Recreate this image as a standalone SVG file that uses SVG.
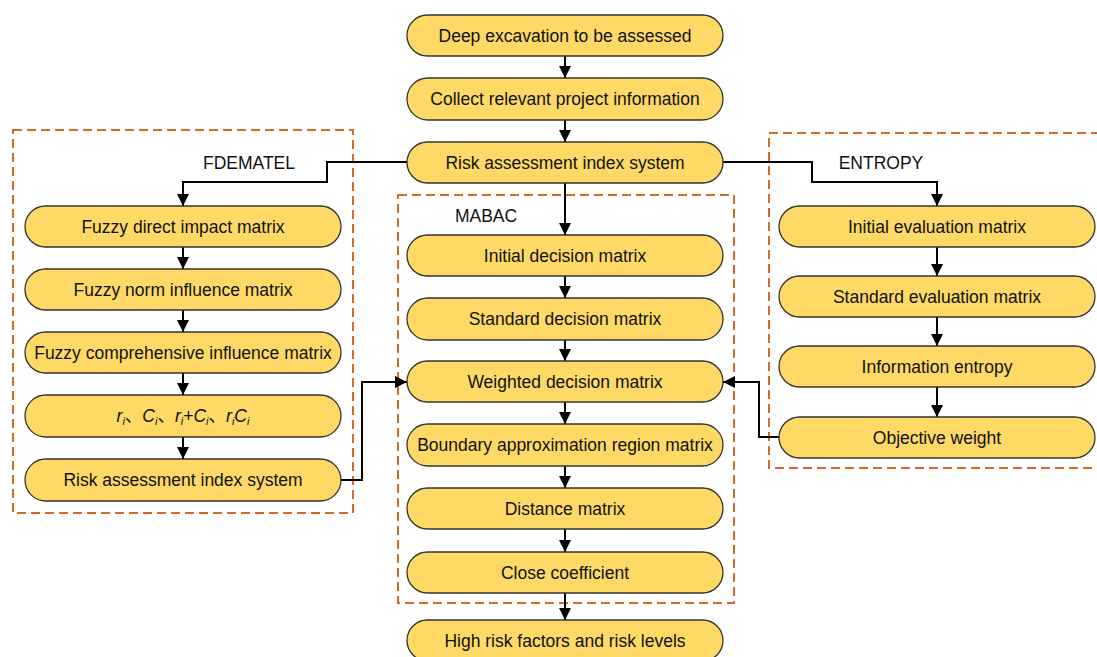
<svg xmlns="http://www.w3.org/2000/svg" width="1097" height="657" viewBox="0 0 1097 657">
<defs>
<style>
.n{fill:#FFD966;stroke:#333;stroke-width:1.3}
.t{font-family:"Liberation Sans",Arial,sans-serif;font-size:17.5px;fill:#111;text-anchor:middle}
.lb{font-family:"Liberation Sans",Arial,sans-serif;font-size:17.5px;fill:#111;text-anchor:middle}
.d{fill:none;stroke:#D4692A;stroke-width:2;stroke-dasharray:9 5}
.c{fill:none;stroke:#000;stroke-width:2}
</style>
<marker id="a" markerUnits="userSpaceOnUse" markerWidth="12" markerHeight="12" viewBox="0 0 12 12" refX="12" refY="6" orient="auto">
<path d="M0,0 L12,6 L0,12 Z" fill="#000"/>
</marker>
</defs>
<rect width="1097" height="657" fill="#fff"/>
<g id="groups">
<rect class="d" x="13" y="130" width="340" height="383"/>
<rect class="d" x="398" y="195" width="336" height="408"/>
<path class="d" d="M1100,133 H769 V468 H1100"/>
<text class="lb" x="249" y="169">FDEMATEL</text>
<text class="lb" x="486" y="222">MABAC</text>
<text class="lb" x="881" y="169">ENTROPY</text>
</g>
<g id="connectors">
<path class="c" d="M565,56 V78" marker-end="url(#a)"/>
<path class="c" d="M565,120 V142" marker-end="url(#a)"/>
<path class="c" d="M565,183 V235" marker-end="url(#a)"/>
<path class="c" d="M407,162 H327 V182 H183 V206" marker-end="url(#a)"/>
<path class="c" d="M723,162 H812 V182 H937 V206" marker-end="url(#a)"/>
<path class="c" d="M565,276 V298" marker-end="url(#a)"/>
<path class="c" d="M565,340 V361" marker-end="url(#a)"/>
<path class="c" d="M565,402 V424" marker-end="url(#a)"/>
<path class="c" d="M565,466 V488" marker-end="url(#a)"/>
<path class="c" d="M565,529 V552" marker-end="url(#a)"/>
<path class="c" d="M565,593 V620" marker-end="url(#a)"/>
<path class="c" d="M183,247 V269" marker-end="url(#a)"/>
<path class="c" d="M183,310 V332" marker-end="url(#a)"/>
<path class="c" d="M183,373 V395" marker-end="url(#a)"/>
<path class="c" d="M183,437 V459" marker-end="url(#a)"/>
<path class="c" d="M937,247 V276" marker-end="url(#a)"/>
<path class="c" d="M937,317 V346" marker-end="url(#a)"/>
<path class="c" d="M937,387 V417" marker-end="url(#a)"/>
<path class="c" d="M341,480 H362 V382 H407" marker-end="url(#a)"/>
<path class="c" d="M779,437 H759 V382 H723" marker-end="url(#a)"/>
</g>
<g id="n1"><rect class="n" x="407" y="15" width="316" height="41" rx="20.5"/><text class="t" x="565" y="41.5">Deep excavation to be assessed</text></g>
<g id="n2"><rect class="n" x="407" y="78" width="316" height="42" rx="21"/><text class="t" x="565" y="105">Collect relevant project information</text></g>
<g id="n3"><rect class="n" x="407" y="142" width="316" height="41" rx="20.5"/><text class="t" x="565" y="168.5">Risk assessment index system</text></g>
<g id="m1"><rect class="n" x="407" y="235" width="316" height="41" rx="20.5"/><text class="t" x="565" y="261.5">Initial decision matrix</text></g>
<g id="m2"><rect class="n" x="407" y="298" width="316" height="42" rx="21"/><text class="t" x="565" y="325">Standard decision matrix</text></g>
<g id="m3"><rect class="n" x="407" y="361" width="316" height="41" rx="20.5"/><text class="t" x="565" y="387.5">Weighted decision matrix</text></g>
<g id="m4"><rect class="n" x="407" y="424" width="316" height="42" rx="21"/><text class="t" x="565" y="451">Boundary approximation region matrix</text></g>
<g id="m5"><rect class="n" x="407" y="488" width="316" height="41" rx="20.5"/><text class="t" x="565" y="514.5">Distance matrix</text></g>
<g id="m6"><rect class="n" x="407" y="552" width="316" height="41" rx="20.5"/><text class="t" x="565" y="578.5">Close coefficient</text></g>
<g id="n4"><rect class="n" x="407" y="620" width="316" height="41" rx="20.5"/><text class="t" x="565" y="646.5">High risk factors and risk levels</text></g>
<g id="f1"><rect class="n" x="25" y="206" width="316" height="41" rx="20.5"/><text class="t" x="183" y="232.5">Fuzzy direct impact matrix</text></g>
<g id="f2"><rect class="n" x="25" y="269" width="316" height="41" rx="20.5"/><text class="t" x="183" y="295.5">Fuzzy norm influence matrix</text></g>
<g id="f3"><rect class="n" x="25" y="332" width="316" height="41" rx="20.5"/><text class="t" x="183" y="358.5">Fuzzy comprehensive influence matrix</text></g>
<g id="f4"><rect class="n" x="25" y="395" width="316" height="42" rx="21"/><text class="t" x="183" y="422" style="font-family:'Liberation Sans','Noto Sans CJK SC',sans-serif"><tspan font-style="italic">r</tspan><tspan font-style="italic" font-size="11" dy="3">i</tspan><tspan dy="-3">、</tspan><tspan font-style="italic">C</tspan><tspan font-style="italic" font-size="11" dy="3">i</tspan><tspan dy="-3">、</tspan><tspan font-style="italic">r</tspan><tspan font-style="italic" font-size="11" dy="3">i</tspan><tspan dy="-3">+</tspan><tspan font-style="italic">C</tspan><tspan font-style="italic" font-size="11" dy="3">i</tspan><tspan dy="-3">、</tspan><tspan font-style="italic">r</tspan><tspan font-style="italic" font-size="11" dy="3">i</tspan><tspan font-style="italic" dy="-3">C</tspan><tspan font-style="italic" font-size="11" dy="3">i</tspan></text></g>
<g id="f5"><rect class="n" x="25" y="459" width="316" height="42" rx="21"/><text class="t" x="183" y="486">Risk assessment index system</text></g>
<g id="e1"><rect class="n" x="779" y="206" width="316" height="41" rx="20.5"/><text class="t" x="937" y="232.5">Initial evaluation matrix</text></g>
<g id="e2"><rect class="n" x="779" y="276" width="316" height="41" rx="20.5"/><text class="t" x="937" y="302.5">Standard evaluation matrix</text></g>
<g id="e3"><rect class="n" x="779" y="346" width="316" height="41" rx="20.5"/><text class="t" x="937" y="372.5">Information entropy</text></g>
<g id="e4"><rect class="n" x="779" y="417" width="316" height="41" rx="20.5"/><text class="t" x="937" y="443.5">Objective weight</text></g>
</svg>
